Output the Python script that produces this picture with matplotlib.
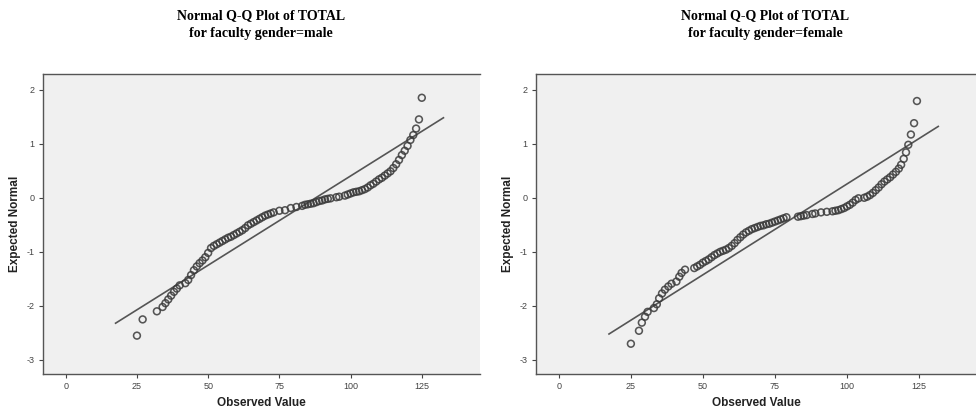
import matplotlib
matplotlib.use("Agg")
import matplotlib.pyplot as plt

plt.rcParams['axes.unicode_minus'] = False

male_obs = [25, 27, 32, 34, 35, 36, 37, 38, 39, 40, 42, 43, 44, 45, 46, 47, 48, 49,
            50, 51, 52, 53, 54, 55, 56, 57, 58, 59, 60, 61, 62, 63, 64, 65, 66, 67,
            68, 69, 70, 71, 72, 73, 75, 77, 79, 81, 83, 84, 85, 86, 87, 88, 89, 90,
            91, 92, 93, 95, 96, 98, 99, 100, 101, 102, 103, 104, 105, 106, 107, 108,
            109, 110, 111, 112, 113, 114, 115, 116, 117, 118, 119, 120, 121, 122,
            123, 124, 125]
male_exp = [-2.55, -2.25, -2.10, -2.02, -1.95, -1.88, -1.81, -1.74, -1.68, -1.62,
            -1.58, -1.52, -1.43, -1.34, -1.27, -1.21, -1.16, -1.10, -1.02, -0.93,
            -0.89, -0.86, -0.83, -0.80, -0.77, -0.74, -0.72, -0.69, -0.66, -0.63,
            -0.60, -0.56, -0.51, -0.48, -0.45, -0.42, -0.39, -0.36, -0.33, -0.31,
            -0.29, -0.27, -0.24, -0.23, -0.19, -0.17, -0.15, -0.13, -0.12, -0.11,
            -0.10, -0.08, -0.06, -0.05, -0.03, -0.02, -0.01, 0.01, 0.02, 0.04,
            0.06, 0.08, 0.10, 0.11, 0.12, 0.14, 0.16, 0.19, 0.23, 0.26, 0.30,
            0.34, 0.37, 0.41, 0.45, 0.49, 0.55, 0.62, 0.70, 0.79, 0.87, 0.96,
            1.07, 1.16, 1.28, 1.45, 1.85]
male_line_x = [17.5, 132.6]
male_line_y = [-2.32, 1.48]

female_obs = [25, 27.8, 28.8, 29.9, 30.8, 33, 34, 34.8, 35.8, 36.8, 38, 39.1, 40.8,
              41.8, 42.6, 43.8, 47, 48, 49, 50, 51, 52, 53, 54, 55, 56, 57, 58, 59,
              60, 61, 62, 63, 64, 65, 66, 67, 68, 69, 70, 71, 72, 73, 74, 75, 76,
              77, 78, 79, 83, 84, 85, 86, 88, 89, 91, 93, 95, 96, 97, 98, 99, 100,
              101, 102, 103, 104, 106, 107, 108, 109, 110, 111, 112, 113, 114, 115,
              116, 117, 118, 118.8, 119.7, 120.5, 121.3, 122.2, 123.3, 124.3]
female_exp = [-2.70, -2.46, -2.31, -2.20, -2.11, -2.04, -1.97, -1.86, -1.77, -1.70,
              -1.64, -1.59, -1.55, -1.46, -1.39, -1.33, -1.30, -1.27, -1.24, -1.20,
              -1.17, -1.14, -1.10, -1.06, -1.03, -1.00, -0.98, -0.96, -0.93, -0.89,
              -0.84, -0.78, -0.73, -0.68, -0.64, -0.61, -0.58, -0.56, -0.54, -0.52,
              -0.51, -0.49, -0.48, -0.46, -0.44, -0.42, -0.40, -0.38, -0.36, -0.35,
              -0.34, -0.33, -0.32, -0.30, -0.29, -0.27, -0.26, -0.25, -0.24, -0.23,
              -0.21, -0.19, -0.16, -0.13, -0.09, -0.04, -0.01, 0.00, 0.02, 0.05,
              0.09, 0.14, 0.19, 0.25, 0.30, 0.34, 0.38, 0.43, 0.48, 0.54, 0.61,
              0.72, 0.84, 0.98, 1.17, 1.38, 1.79]
female_line_x = [17.4, 131.7]
female_line_y = [-2.52, 1.32]

x_ticks = [0, 25, 50, 75, 100, 125]
y_ticks = [-3, -2, -1, 0, 1, 2]
titles = ["Normal Q-Q Plot of TOTAL\nfor faculty gender=male",
          "Normal Q-Q Plot of TOTAL\nfor faculty gender=female"]

fig = plt.figure(figsize=(9.76, 4.11), dpi=100)

panels = [
    ([0.044, 0.09, 0.448, 0.73], male_obs, male_exp, male_line_x, male_line_y, (-8, 145.5), 0.267),
    ([0.549, 0.09, 0.451, 0.73], female_obs, female_exp, female_line_x, female_line_y, (-8, 144.8), 0.784),
]

for i, (rect, xs, ys, lx, ly, xlim, tx) in enumerate(panels):
    ax = fig.add_axes(rect)
    ax.set_facecolor('#f0f0f0')
    ax.plot(lx, ly, color='#555555', lw=1.2, zorder=2)
    ax.scatter(xs, ys, s=24, facecolors='none', edgecolors='#3a3a3a',
               linewidths=1.15, alpha=0.85, zorder=3)
    ax.set_xlim(*xlim)
    ax.set_ylim(-3.26, 2.29)
    ax.set_xticks(x_ticks)
    ax.set_yticks(y_ticks)
    ax.tick_params(labelsize=6.5, colors='#444444', length=3, width=0.8, pad=3)
    for lab in ax.get_xticklabels() + ax.get_yticklabels():
        lab.set_fontfamily('Liberation Sans')
    for s in ['left', 'bottom', 'top']:
        ax.spines[s].set_color('#555555')
        ax.spines[s].set_linewidth(1.0)
    ax.spines['right'].set_visible(False)
    ax.set_xlabel('Observed Value', fontsize=8.5, fontweight='bold',
                  family='Liberation Sans', color='#222222', labelpad=4)
    ax.set_ylabel('Expected Normal', fontsize=8.5, fontweight='bold',
                  family='Liberation Sans', color='#222222', labelpad=4)
    fig.text(tx, 0.94, titles[i], ha='center', va='center', fontsize=10,
             fontweight='bold', family='Liberation Serif', linespacing=1.45)

plt.savefig('out.png', dpi=100)
plt.close()
